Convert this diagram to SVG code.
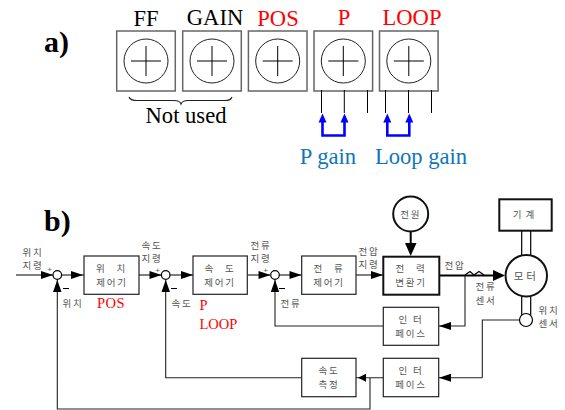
<svg xmlns="http://www.w3.org/2000/svg" width="565" height="410" viewBox="0 0 565 410">
<style>
.s{font-family:"Liberation Serif",serif;font-size:22.6px;text-anchor:middle}
.h{font-family:"Liberation Serif",serif;font-size:30px;font-weight:bold}
.r{fill:#f00}.b{fill:#0f75bd}
.k{font-family:"Noto Sans CJK KR",sans-serif;font-size:9.500px;fill:#555;text-anchor:middle;letter-spacing:1.800px}
.p{font-family:"Liberation Sans",sans-serif;font-size:8px;fill:#555;text-anchor:middle}
.rs{font-family:"Liberation Serif",serif;font-size:14.500px;fill:#f00}
.box{fill:#fff;stroke:#222;stroke-width:1.200}
.tk{fill:#fff;stroke:#111;stroke-width:2}
.ko{fill:none;stroke:#000;stroke-width:1.200}
.trim{fill:#fff;stroke:#666;stroke-width:1.500}
.dial{fill:#fff;stroke:#222;stroke-width:1}
.ln{fill:none;stroke:#000;stroke-width:1}
.w{fill:none;stroke:#222;stroke-width:1.100}
.bl{fill:none;stroke:#00f;stroke-width:2.600}
</style>
<defs>
<g id="trim"><rect class="trim" x="-29.300" y="-30" width="58.600" height="60"/><circle class="dial" r="22"/><path class="ln" d="M-15 0H15M0-15V15"/></g>
<path id="ah" d="M0 0L-12-4V4Z" fill="#000"/>
<path id="bh" d="M0 0L-4 9H4Z" fill="#00f"/>
</defs>
<text class="h" x="44" y="52">a)</text>
<text class="h" x="44" y="231">b)</text>
<g id="ff"><use href="#trim" x="146" y="61"/><text class="s" x="146" y="26">FF</text></g>
<g id="gain"><use href="#trim" x="212" y="61"/><text class="s" x="215" y="25">GAIN</text></g>
<g id="pos"><use href="#trim" x="277.700" y="61"/><text class="s r" x="278" y="26">POS</text></g>
<g id="p"><use href="#trim" x="343.300" y="61"/><text class="s r" x="344" y="25">P</text></g>
<g id="loop"><use href="#trim" x="408.800" y="61"/><text class="s r" x="412" y="25">LOOP</text></g>
<path class="w" d="M129 97C130 100 133 100.500 137 100.500H174C178 100.500 180 101 181 104C182 101 184 100.500 188 100.500H225C228 100.500 231 100 232 97"/>
<text class="s" x="186" y="123">Not used</text>
<path class="ln" d="M321.500 90V113M344.300 90V113M367.500 90V113M385.500 90V113M408.500 90V113M431.500 90V113"/>
<path class="bl" d="M322.500 122V135.500H344.500V122M387.300 122V135.500H409.300V122"/>
<use href="#bh" x="322.500" y="113.500"/><use href="#bh" x="344.500" y="113.500"/><use href="#bh" x="387.300" y="113.500"/><use href="#bh" x="409.300" y="113.500"/>
<text class="s b" x="328" y="164">P gain</text>
<text class="s b" x="421" y="164">Loop gain</text>

<g id="connectors">
<path class="ko" d="M16 275H53M61.500 275H84M139 275H161.500M170 275H193M247.300 275H270.500M279.500 275H301.700M356 275H383"/>
<path class="w" d="M275 280V326H383.300M465 275V326H439M482.300 377.700V320H519.500M482.300 377.700H439M383.300 377.700H356M301.700 377.700H165.700V280M370 377.700V409H57.300V280"/>
<path fill="none" stroke="#000" stroke-width="2" d="M439 275.500H494M410.700 232V244"/>
<path fill="none" stroke="#000" stroke-width="1.200" d="M465 275L470 271.500L474 275L479 271.500L484 275"/>
<path class="ko" d="M521.700 230V256M530.700 230V256M521.700 296V315M530.700 296V315"/>
<use href="#ah" x="53" y="275"/><use href="#ah" x="161.500" y="275"/><use href="#ah" x="83" y="275"/><use href="#ah" x="193" y="275"/><use href="#ah" x="270.500" y="275"/><use href="#ah" x="301.500" y="275"/><use href="#ah" x="383" y="275"/>
<path d="M505 275.500L493 270V281Z"/><path d="M410.700 256L405 243H416.500Z"/>
<path d="M57.300 280L53 292H61.500Z"/><path d="M165.700 280L161.500 292H170Z"/><path d="M275 280L270.800 292H279.200Z"/>
<path d="M439 326L451 322V330Z"/><path d="M439 377.700L451 373.700V381.700Z"/><path d="M358 377.700L366 373.700V381.700Z"/>
</g>
<g id="sum1"><circle class="ko" style="fill:#fff" cx="57.300" cy="275" r="4.300"/><text class="p" x="49.500" y="272">+</text></g>
<g id="sum2"><circle class="ko" style="fill:#fff" cx="165.700" cy="275" r="4.300"/><text class="p" x="157.500" y="273">+</text></g>
<g id="sum3"><circle class="ko" style="fill:#fff" cx="275" cy="275" r="4.300"/><text class="p" x="265.500" y="273">+</text></g>
<path d="M63 288.500H69M171 288.500H177M279 288.500H285" stroke="#000" stroke-width="1.200"/>

<g id="pos-ctrl"><rect class="box" x="84" y="256" width="55" height="38.300"/><text class="k" x="111.500" y="272" style="word-spacing:6px">위 치</text><text class="k" x="112" y="285.500">제어기</text></g>
<g id="spd-ctrl"><rect class="box" x="193" y="256" width="54.300" height="38.300"/><text class="k" x="220" y="272" style="word-spacing:6px">속 도</text><text class="k" x="220" y="285.500">제어기</text></g>
<g id="cur-ctrl"><rect class="box" x="301.700" y="256" width="54.300" height="38.300"/><text class="k" x="329" y="272" style="word-spacing:6px">전 류</text><text class="k" x="329" y="285.500">제어기</text></g>
<g id="power"><rect class="tk" x="383.300" y="256.700" width="56" height="38"/><text class="k" x="411" y="272" style="word-spacing:6px">전 력</text><text class="k" x="411" y="285.500">변환기</text></g>
<g id="if1"><rect class="box" x="383.300" y="307.300" width="55.400" height="38"/><text class="k" x="411" y="323">인 터</text><text class="k" x="411" y="336.500">페이스</text></g>
<g id="if2"><rect class="box" x="383.300" y="358.300" width="55.400" height="38.400"/><text class="k" x="411" y="374">인 터</text><text class="k" x="411" y="387.500">페이스</text></g>
<g id="spd-meas"><rect class="box" x="301.700" y="358.300" width="54.300" height="38.400"/><text class="k" x="329" y="374">속도</text><text class="k" x="329" y="387.500">측정</text></g>
<g id="source"><circle class="tk" cx="410.700" cy="214" r="17.500"/><text class="k" x="410.700" y="218">전원</text></g>
<g id="machine"><rect class="tk" x="499.300" y="199.300" width="52.400" height="31.400"/><text class="k" x="525.500" y="218" style="letter-spacing:4px">기계</text></g>
<g id="motor"><circle class="tk" cx="526.300" cy="275.700" r="20.700"/><text class="k" x="526.300" y="279.500" style="font-size:10.500px;letter-spacing:3px">모터</text></g>
<g id="pos-sensor"><circle class="ko" style="fill:#fff" cx="526" cy="320" r="6.500"/></g>

<text class="k" x="33" y="255.500">위치</text><text class="k" x="33" y="269">지령</text>
<text class="k" x="73" y="307">위치</text>
<text class="k" x="152" y="248.500">속도</text><text class="k" x="152" y="262">지령</text>
<text class="k" x="182" y="307">속도</text>
<text class="k" x="261" y="248.500">전류</text><text class="k" x="261" y="262">지령</text>
<text class="k" x="291" y="307">전류</text>
<text class="k" x="369" y="254.500">전압</text><text class="k" x="369" y="268">지령</text>
<text class="k" x="455" y="269">전압</text>
<text class="k" x="486" y="290">전류</text><text class="k" x="486" y="304">센서</text>
<text class="k" x="549" y="313.500">위치</text><text class="k" x="549" y="327">센서</text>
<text class="rs" x="97" y="308" letter-spacing=".5">POS</text>
<text class="rs" x="199.500" y="310">P</text>
<text class="rs" x="199.500" y="329">LOOP</text>
</svg>
